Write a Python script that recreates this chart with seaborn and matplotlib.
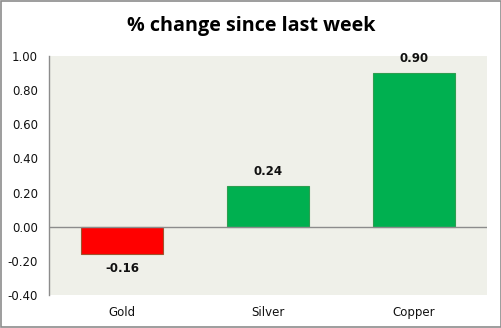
import matplotlib
matplotlib.use("Agg")
import matplotlib.pyplot as plt
import seaborn as sns
import pandas as pd
from matplotlib.patches import Rectangle

metals = ["Gold", "Silver", "Copper"]
pct_change = [-0.16, 0.24, 0.90]
y_ticks = [-0.40, -0.20, 0.00, 0.20, 0.40, 0.60, 0.80, 1.00]

df = pd.DataFrame({"metal": metals, "change": pct_change})
colors = ["#FF0000" if v < 0 else "#00B050" for v in pct_change]
edges = ["#A0522D" if v < 0 else "#2E9E50" for v in pct_change]

sns.set_theme(style="white")
plt.rcParams["font.family"] = ["DejaVu Sans"]

fig = plt.figure(figsize=(5.02, 3.28), dpi=100)
fig.patch.set_facecolor("white")
ax = fig.add_axes([49 / 502, 1 - 295 / 328, 438 / 502, 239 / 328])
ax.set_facecolor("#EFF0E9")

sns.barplot(data=df, x="metal", y="change", hue="metal", palette=colors,
            legend=False, width=0.56, ax=ax, saturation=1)
for patch, ec in zip(ax.patches, edges):
    patch.set_edgecolor(ec)
    patch.set_linewidth(0.8)

ax.set_ylim(-0.40, 1.00)
ax.set_xlim(-0.5, 2.5)
ax.set_yticks(y_ticks)
ax.set_yticklabels([f"{t:.2f}" for t in y_ticks], fontsize=8.5, color="#111111")
ax.tick_params(axis="x", labelsize=8.5, colors="#111111", length=0, pad=8)
ax.tick_params(axis="y", length=0, pad=8)
ax.set_xlabel("")
ax.set_ylabel("")

ax.axhline(0, color="#8C8C8C", lw=1.0, zorder=3)
for s in ["top", "right", "bottom"]:
    ax.spines[s].set_visible(False)
ax.spines["left"].set_color("#8C8C8C")
ax.spines["left"].set_linewidth(1.0)

for i, v in enumerate(pct_change):
    offset = 0.045 if v >= 0 else -0.045
    ax.text(i, v + offset, f"{v:.2f}", ha="center",
            va="bottom" if v >= 0 else "top",
            fontsize=8.5, fontweight="bold", color="#111111")

fig.text(0.5, 1 - 26 / 328, "% change since last week", ha="center", va="center",
         fontsize=14.2, fontweight="bold", color="black",
         family=["Open Sans", "DejaVu Sans"])

fig.add_artist(Rectangle((0.001, 0.002), 0.997, 0.995, transform=fig.transFigure,
                         fill=False, edgecolor="#8C8C8C", lw=1.2))

fig.savefig("out.png", dpi=100)
